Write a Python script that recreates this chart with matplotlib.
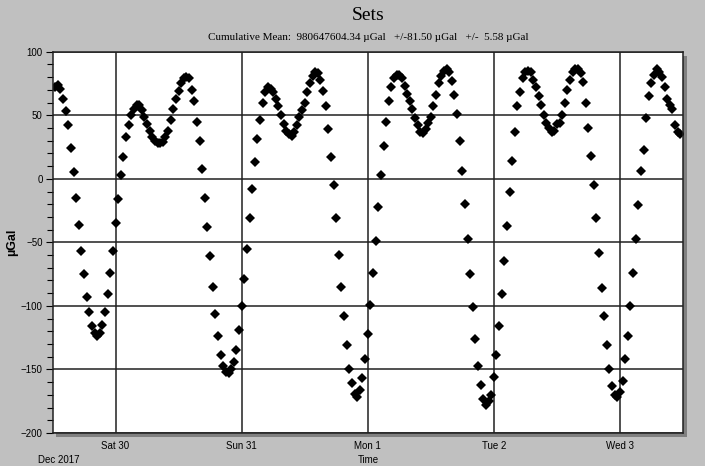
import numpy as np
import pandas as pd
import matplotlib
matplotlib.use("Agg")
import matplotlib.pyplot as plt
from matplotlib.patches import Rectangle

# ---------- datos (muestras cada 30 min) ----------
inicio = "2017-12-29 12:30"
valores = [
    72, 74, 71, 63, 53, 42, 24, 5, -15, -36,
    -57, -75, -93, -105, -116, -121, -124, -121, -115, -105,
    -91, -74, -57, -35, -16, 3, 17, 33, 42, 50,
    55, 58, 58, 54, 49, 43, 38, 33, 30, 28,
    28, 29, 33, 38, 46, 55, 63, 69, 75, 79,
    80, 79, 70, 61, 45, 30, 8, -15, -38, -61,
    -85, -106, -124, -139, -147, -152, -153, -150, -144, -135,
    -119, -100, -79, -55, -31, -8, 13, 31, 46, 60,
    68, 72, 71, 68, 63, 57, 50, 43, 38, 35,
    34, 37, 42, 49, 54, 60, 68, 75, 81, 84,
    83, 78, 69, 57, 39, 17, -5, -31, -60, -85,
    -108, -131, -150, -161, -169, -172, -166, -157, -142, -122,
    -99, -74, -49, -22, 3, 26, 45, 61, 72, 79,
    82, 82, 79, 73, 67, 61, 55, 48, 42, 37,
    36, 39, 44, 49, 57, 66, 75, 81, 85, 86,
    84, 77, 66, 51, 30, 6, -20, -47, -75, -101,
    -126, -147, -162, -173, -178, -175, -170, -156, -139, -116,
    -91, -65, -37, -10, 14, 37, 57, 68, 79, 84,
    85, 84, 78, 72, 65, 58, 50, 44, 40, 37,
    38, 43, 44, 50, 60, 70, 78, 84, 86, 86,
    83, 76, 60, 40, 18, -5, -31, -58, -86, -108,
    -131, -150, -163, -170, -172, -168, -159, -142, -124, -100,
    -74, -47, -21, 6, 23, 48, 65, 75, 82, 86,
    84, 80, 72, 63, 58, 55, 42, 37, 35,
]
dias = ["2017-12-30", "2017-12-31", "2018-01-01", "2018-01-02", "2018-01-03"]
etiquetas_dias = ["Sat 30", "Sun 31", "Mon 1", "Tue 2", "Wed 3"]

tiempos = pd.date_range(inicio, periods=len(valores), freq="30min")

# ---------- figura ----------
W, H = 705, 466
gris = "#c0c0c0"
fig = plt.figure(figsize=(W / 100, H / 100), dpi=100, facecolor=gris)

x0, x1, y0, y1 = 52.5, 683, 51.7, 433
rect = [x0 / W, 1 - y1 / H, (x1 - x0) / W, (y1 - y0) / H]

# sombra del area de trazado
fig.patches.append(Rectangle((rect[0] + 4 / W, rect[1] - 4 / H), rect[2], rect[3],
                             transform=fig.transFigure, facecolor="#808080",
                             edgecolor="none", zorder=-1))

ax = fig.add_axes(rect)
ax.set_facecolor("white")

ax.plot(tiempos, valores, linestyle="none", marker="D", ms=5.4,
        color="black", markeredgewidth=0)

ax.set_xlim(pd.Timestamp("2017-12-29 12:00"), pd.Timestamp("2018-01-03 12:00"))
ax.set_ylim(-200, 100)

ax.set_yticks(np.arange(-200, 101, 50))
ax.set_yticks(np.arange(-200, 101, 10), minor=True)
ax.set_xticks([pd.Timestamp(d) for d in dias])
ax.set_xticklabels(etiquetas_dias, fontsize=7, family="Liberation Sans")
ax.tick_params(axis="y", which="major", length=5, width=0.8, labelsize=7, pad=2)
ax.tick_params(axis="y", which="minor", length=4, width=0.8)
ax.tick_params(axis="x", length=0, pad=6)
for lab in ax.get_yticklabels():
    lab.set_family("Liberation Sans")

ax.grid(True, which="major", color="#202020", linewidth=1.1)
for s in ax.spines.values():
    s.set_color("#202020")
    s.set_linewidth(1.1)

ax.set_ylabel("µGal", fontsize=9, family="Liberation Sans", fontweight="bold")
ax.yaxis.set_label_coords((18 - x0) / (x1 - x0), 0.5)

fig.text(368 / W, 1 - 16 / H, "Sets", ha="center", va="center",
         fontsize=14, family="Liberation Serif")
fig.text(368 / W, 1 - 38 / H,
         "Cumulative Mean:  980647604.34 µGal   +/-81.50 µGal   +/-  5.58 µGal",
         ha="center", va="center", fontsize=8, family="Liberation Serif")
fig.text(38 / W, 1 - 460 / H, "Dec 2017", ha="left", va="center",
         fontsize=7, family="Liberation Sans")
fig.text(368 / W, 1 - 460 / H, "Time", ha="center", va="center",
         fontsize=7, family="Liberation Sans")

fig.savefig("out.png", dpi=100, facecolor=gris)
